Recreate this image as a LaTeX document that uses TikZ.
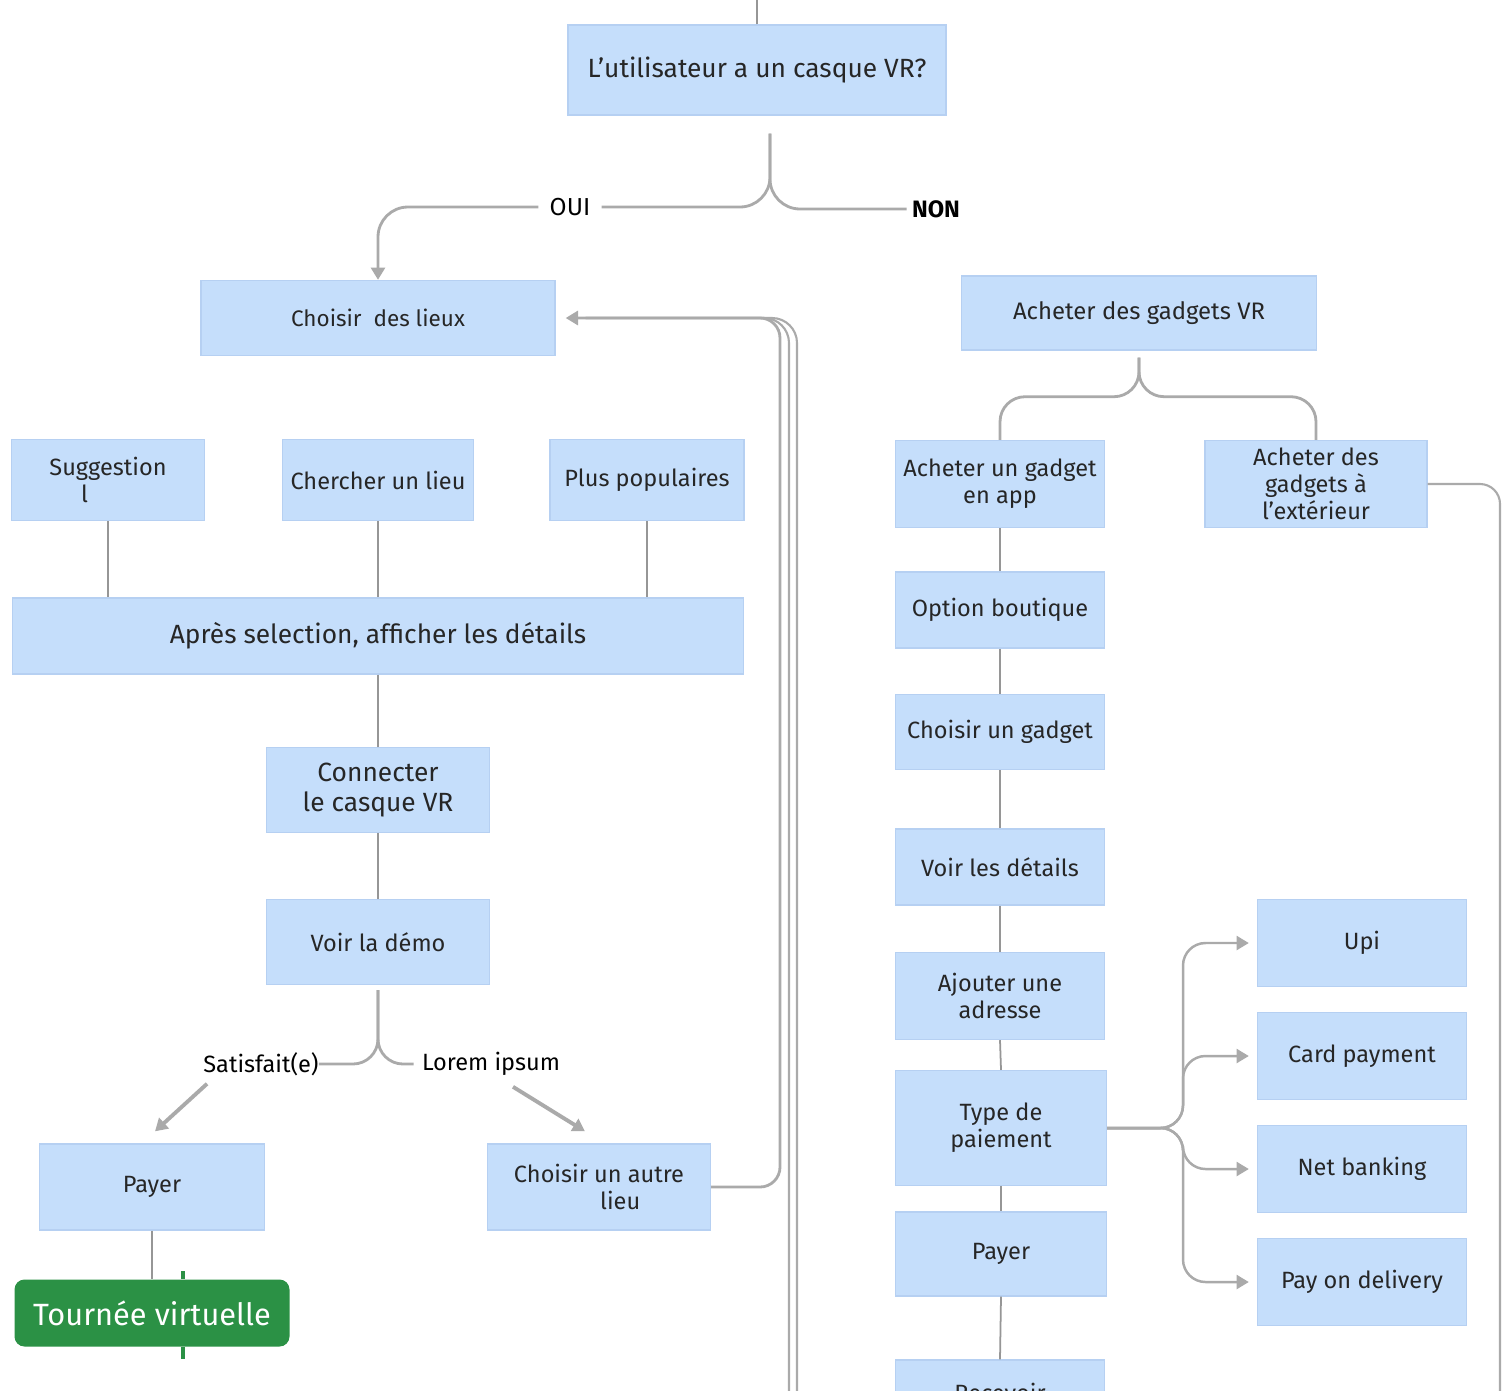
\documentclass[tikz,border=0pt]{standalone}
\usepackage{fontspec}
\setmainfont{Fira Sans}
\usetikzlibrary{calc, positioning, arrows.meta}

\definecolor{boxblue}{RGB}{197,222,251}
\definecolor{boxedge}{RGB}{182,208,242}
\definecolor{linegrey}{RGB}{170,170,170}
\definecolor{stemgrey}{RGB}{150,150,150}
\definecolor{tourgreen}{RGB}{43,145,69}
\definecolor{txt}{RGB}{38,38,38}

\begin{document}
\begin{tikzpicture}[x=0.02cm, y=-0.02cm, >={Triangle[length=7pt,width=8pt]},
    sz/.style 2 args={minimum width=#1*0.02cm, minimum height=#2*0.02cm},
    box/.style={fill=boxblue, draw=boxedge, line width=0.8pt, text=txt,
        align=center, inner sep=0pt, font=\fontsize{13.4}{15.5}\selectfont},
    tag/.style={text=black, inner ysep=1pt, font=\fontsize{13.4}{16}\selectfont},
    big/.style={font=\fontsize{15}{17.5}\selectfont},
    link/.style={draw=linegrey, line width=1.6pt},
    stem/.style={draw=stemgrey, line width=1pt}]
    % Cadre
    \clip (0,0) rectangle (1503,1390);
    \fill[white] (0,0) rectangle (1503,1390);

    % Question de départ
    \node[box, big, sz={378}{90}] (q) at (757,70) {L’utilisateur a un casque VR?};
    \node[tag, inner xsep=0.22cm, font=\fontsize{14}{16}\selectfont] (oui) at (570,207) {OUI};
    \node[tag, inner xsep=0.1cm, font=\fontsize{13.5}{16}\bfseries] (non) at (936,209) {NON};

    % Branche OUI
    \node[box, sz={354}{75}, font=\fontsize{12.8}{15}\selectfont] (lieux) at (378,318) {Choisir\ \ des lieux};
    \node[box, sz={193}{81}] (sugg) at (108,480) {Suggestion\\l\hspace*{2em}};
    \node[box, sz={191}{81}] (search) at (378,480) {Chercher un lieu};
    \node[box, sz={194}{81}] (popular) at (647,480) {Plus populaires};
    \node[box, big, sz={731}{76}] (details) at (378,636) {Après selection, afficher les détails};
    \node[box, big, sz={223}{85}] (connect) at (378,790) {Connecter\\le casque VR};
    \node[box, sz={223}{85}] (demo) at (378,942) {Voir la démo};
    \node[tag, inner xsep=0pt] (satisf) at (261,1064) {Satisfait(e)};
    \node[tag, inner xsep=0.16cm] (lorem) at (491,1064) {Lorem ipsum};
    \node[box, sz={225}{86}] (payl) at (152,1187) {Payer};
    \node[box, sz={223}{86}] (other) at (599,1187) {Choisir un autre\\\hspace*{1.8em}lieu};
    \node[fill=tourgreen, text=white, rounded corners=0.2cm, inner sep=0pt,
        sz={275}{67}, font=\fontsize{17.5}{20}\selectfont] (tour) at (152,1313) {Tournée virtuelle};

    % Branche NON
    \node[box, sz={355}{74}, font=\fontsize{13.6}{16}\selectfont] (gadgets) at (1139,313) {Acheter des gadgets VR};
    \node[box, sz={209}{87}] (inapp) at (1000,484) {Acheter un gadget\\en app};
    \node[box, sz={222}{87}] (outside) at (1316,484) {Acheter des\\gadgets à\\l'extérieur};
    \node[box, sz={209}{76}] (shop) at (1000,610) {Option boutique};
    \node[box, sz={209}{75}] (pick) at (1000,732) {Choisir un gadget};
    \node[box, sz={209}{76}] (seedet) at (1000,867) {Voir les détails};
    \node[box, sz={209}{87}] (addr) at (1000,996) {Ajouter une\\adresse};
    \node[box, sz={211}{115}] (paytype) at (1001,1128) {Type de\\paiement};
    \node[box, sz={211}{84}] (payr) at (1001,1254) {Payer};
    \node[box, sz={209}{64}] (recv) at (1000,1392) {Recevoir};
    \node[box, sz={209}{87}] (upi) at (1362,943) {Upi};
    \node[box, sz={209}{87}] (card) at (1362,1056) {Card payment};
    \node[box, sz={209}{87}] (net) at (1362,1169) {Net banking};
    \node[box, sz={209}{87}] (cod) at (1362,1282) {Pay on delivery};

    % Accolade OUI / NON
    \coordinate (qfork) at ($(q.south)+(13,18)$);
    \draw[stem] (q.north) -- ++(0,-40);
    \draw[link, rounded corners=0.6cm] (qfork) |- (oui.east);
    \draw[link, rounded corners=0.6cm] (qfork) |- (non.west);
    \draw[link, ->, rounded corners=0.6cm] (oui.west) -| (lieux.north);

    % Colonne de gauche
    \foreach \n in {sugg, search, popular}
        \draw[stem] (\n.south) -- (\n.south |- details.north);
    \draw[stem] (details.south) -- (connect.north);
    \draw[stem] (connect.south) -- (demo.north);
    \coordinate (dfork) at ($(demo.south)+(0,5)$);
    \draw[link, rounded corners=0.5cm] (dfork) |- (satisf.east);
    \draw[link, rounded corners=0.5cm] (dfork) |- (lorem.west);
    \draw[link, ->, line width=2.2pt] ($(satisf.south west)+(4,6)$) -- ($(payl.north)+(3,-12)$);
    \draw[link, ->, line width=2.2pt] ($(lorem.south)+(22,9)$) -- ($(other.north)+(-14,-12)$);
    \draw[stem] (payl.south) -- (payl.south |- tour.north);
    \draw[tourgreen, line width=2pt] ($(tour.north)+(31,0)$) -- ++(0,-8);
    \draw[tourgreen, line width=2pt] ($(tour.south)+(31,0)$) -- ++(0,12);

    % Retour vers Choisir des lieux
    \coordinate (loop) at (780,318);
    \draw[link, ->, rounded corners=0.4cm] (other.east) -| (loop) -- ($(lieux.east)+(10,0)$);
    \foreach \x in {789,797} {
        \coordinate (off\x) at (\x,1400);
        \draw[link, line width=1.2pt, rounded corners=0.5cm] (off\x) |- ($(lieux.east)+(30,0)$);
    }

    % Accolade gadgets
    \coordinate (gfork) at ($(gadgets.south)+(0,7)$);
    \draw[link, rounded corners=0.5cm] (gfork) -- ++(0,39) -| (inapp.north);
    \draw[link, rounded corners=0.5cm] (gfork) -- ++(0,39) -| (outside.north);
    \coordinate (edge) at (1500,1400);
    \draw[link, line width=1.2pt, rounded corners=0.4cm] (outside.east) -| (edge);

    % Colonne de droite
    \foreach \a/\b in {inapp/shop, shop/pick, pick/seedet, seedet/addr, addr/paytype, paytype/payr, payr/recv}
        \draw[stem] (\a.south) -- (\b.north);

    % Types de paiement
    \coordinate (pfork) at (1183,1128);
    \foreach \t in {upi, card, net, cod}
        \draw[link, ->, line width=1.4pt, rounded corners=0.45cm] (paytype.east) -- (pfork) |- ($(\t.west)+(-8,0)$);
\end{tikzpicture}
\end{document}
